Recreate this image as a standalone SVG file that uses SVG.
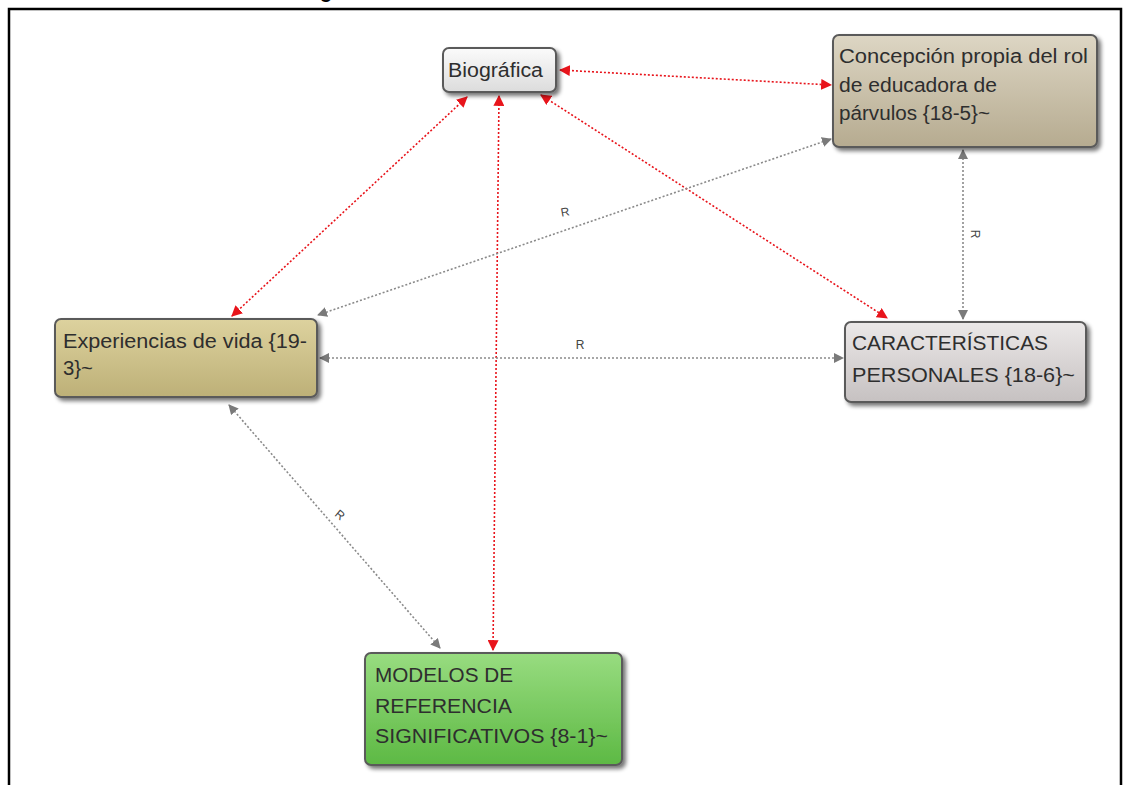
<svg xmlns="http://www.w3.org/2000/svg" width="1130" height="785" viewBox="0 0 1130 785">
  <style>
    .node-text { font-family: "Liberation Sans", Arial, sans-serif; font-size: 20px; fill: #2e2e2e; }
    .box { stroke: #5a5a5a; stroke-width: 2; }
    .red { fill: none; stroke: #e8141b; stroke-width: 1.6; stroke-dasharray: 2 2; }
    .gray { fill: none; stroke: #8a8a8a; stroke-width: 1.6; stroke-dasharray: 2 2; }
    .lbl { font-family: "Liberation Sans", Arial, sans-serif; font-size: 12px; fill: #444; }
    .title { font-family: "Liberation Sans", Arial, sans-serif; font-size: 20px; font-weight: bold; fill: #000; }
  </style>
  <defs>
    <marker id="arrRed" viewBox="0 0 10 10" refX="9" refY="5" markerWidth="11" markerHeight="11" markerUnits="userSpaceOnUse" orient="auto-start-reverse">
      <path d="M0,0 L10,5 L0,10 z" fill="#e8141b"/>
    </marker>
    <marker id="arrGray" viewBox="0 0 10 10" refX="9" refY="5" markerWidth="10" markerHeight="10" markerUnits="userSpaceOnUse" orient="auto-start-reverse">
      <path d="M0,0 L10,5 L0,10 z" fill="#7a7a7a"/>
    </marker>
    <filter id="shadow" x="-10%" y="-10%" width="130%" height="140%">
      <feGaussianBlur in="SourceAlpha" stdDeviation="2"/>
      <feOffset dx="3" dy="3" result="b"/>
      <feComponentTransfer><feFuncA type="linear" slope="0.55"/></feComponentTransfer>
      <feMerge><feMergeNode/><feMergeNode in="SourceGraphic"/></feMerge>
    </filter>
    <linearGradient id="gWhite" x1="0" y1="0" x2="0" y2="1">
      <stop offset="0" stop-color="#fbfbfb"/><stop offset="1" stop-color="#dcdcdc"/>
    </linearGradient>
    <linearGradient id="gTan" x1="0" y1="0" x2="0" y2="1">
      <stop offset="0" stop-color="#ddd6c4"/><stop offset="1" stop-color="#b6ab90"/>
    </linearGradient>
    <linearGradient id="gGold" x1="0" y1="0" x2="0" y2="1">
      <stop offset="0" stop-color="#ddd29e"/><stop offset="1" stop-color="#bdb077"/>
    </linearGradient>
    <linearGradient id="gGray" x1="0" y1="0" x2="0" y2="1">
      <stop offset="0" stop-color="#ebe8e8"/><stop offset="1" stop-color="#c6c1c1"/>
    </linearGradient>
    <linearGradient id="gGreen" x1="0" y1="0" x2="0" y2="1">
      <stop offset="0" stop-color="#98dc80"/><stop offset="1" stop-color="#5db944"/>
    </linearGradient>
  </defs>

  <rect x="0" y="0" width="1130" height="785" fill="#ffffff"/>

  <!-- heading, mostly cut off above the frame -->
  <text class="title" x="320" y="-2">g</text>

  <!-- outer frame -->
  <path d="M9,800 L9,9 L1121,9 L1121,800" fill="none" stroke="#000" stroke-width="2.5"/>

  <g id="connectors">
    <!-- red links -->
    <line class="red" x1="560" y1="70" x2="831" y2="85" marker-start="url(#arrRed)" marker-end="url(#arrRed)"/>
    <line class="red" x1="467" y1="97" x2="232" y2="316" marker-start="url(#arrRed)" marker-end="url(#arrRed)"/>
    <line class="red" x1="499" y1="96" x2="493" y2="650" marker-start="url(#arrRed)" marker-end="url(#arrRed)"/>
    <line class="red" x1="541" y1="95" x2="887" y2="318" marker-start="url(#arrRed)" marker-end="url(#arrRed)"/>
    <!-- gray links -->
    <line class="gray" x1="831" y1="139" x2="318" y2="315" marker-start="url(#arrGray)" marker-end="url(#arrGray)"/>
    <line class="gray" x1="320" y1="358" x2="843" y2="358" marker-start="url(#arrGray)" marker-end="url(#arrGray)"/>
    <line class="gray" x1="963" y1="150" x2="963" y2="319" marker-start="url(#arrGray)" marker-end="url(#arrGray)"/>
    <line class="gray" x1="229" y1="405" x2="440" y2="648" marker-start="url(#arrGray)" marker-end="url(#arrGray)"/>
    <!-- link labels -->
    <text class="lbl" x="565" y="216" text-anchor="middle" transform="rotate(-10 565 212)">R</text>
    <text class="lbl" x="580" y="349" text-anchor="middle">R</text>
    <text class="lbl" x="975" y="238" text-anchor="middle" transform="rotate(90 975 234)">R</text>
    <text class="lbl" x="340" y="519" text-anchor="middle" transform="rotate(40 340 515)">R</text>
  </g>

  <g id="node-biografica">
    <rect class="box" x="443" y="48" width="113" height="44" rx="6" fill="url(#gWhite)" filter="url(#shadow)"/>
    <text class="node-text" x="448" y="77" textLength="95" lengthAdjust="spacingAndGlyphs">Biográfica</text>
  </g>

  <g id="node-concepcion">
    <rect class="box" x="833" y="35" width="264" height="112" rx="6" fill="url(#gTan)" filter="url(#shadow)"/>
    <text class="node-text" x="839" y="63" textLength="249" lengthAdjust="spacingAndGlyphs">Concepción propia del rol</text>
    <text class="node-text" x="839" y="92" textLength="158" lengthAdjust="spacingAndGlyphs">de educadora de</text>
    <text class="node-text" x="839" y="120" textLength="151" lengthAdjust="spacingAndGlyphs">párvulos {18-5}~</text>
  </g>

  <g id="node-experiencias">
    <rect class="box" x="55" y="319" width="262" height="78" rx="6" fill="url(#gGold)" filter="url(#shadow)"/>
    <text class="node-text" x="63" y="348" textLength="244" lengthAdjust="spacingAndGlyphs">Experiencias de vida {19-</text>
    <text class="node-text" x="63" y="375" textLength="30" lengthAdjust="spacingAndGlyphs">3}~</text>
  </g>

  <g id="node-caracteristicas">
    <rect class="box" x="845" y="322" width="241" height="80" rx="6" fill="url(#gGray)" filter="url(#shadow)"/>
    <text class="node-text" x="852" y="350" textLength="196" lengthAdjust="spacingAndGlyphs">CARACTERÍSTICAS</text>
    <text class="node-text" x="852" y="382" textLength="223" lengthAdjust="spacingAndGlyphs">PERSONALES {18-6}~</text>
  </g>

  <g id="node-modelos">
    <rect class="box" x="365" y="653" width="257" height="112" rx="6" fill="url(#gGreen)" filter="url(#shadow)"/>
    <text class="node-text" x="375" y="682" textLength="138" lengthAdjust="spacingAndGlyphs">MODELOS DE</text>
    <text class="node-text" x="375" y="713" textLength="137" lengthAdjust="spacingAndGlyphs">REFERENCIA</text>
    <text class="node-text" x="375" y="743" textLength="233" lengthAdjust="spacingAndGlyphs">SIGNIFICATIVOS {8-1}~</text>
  </g>
</svg>
